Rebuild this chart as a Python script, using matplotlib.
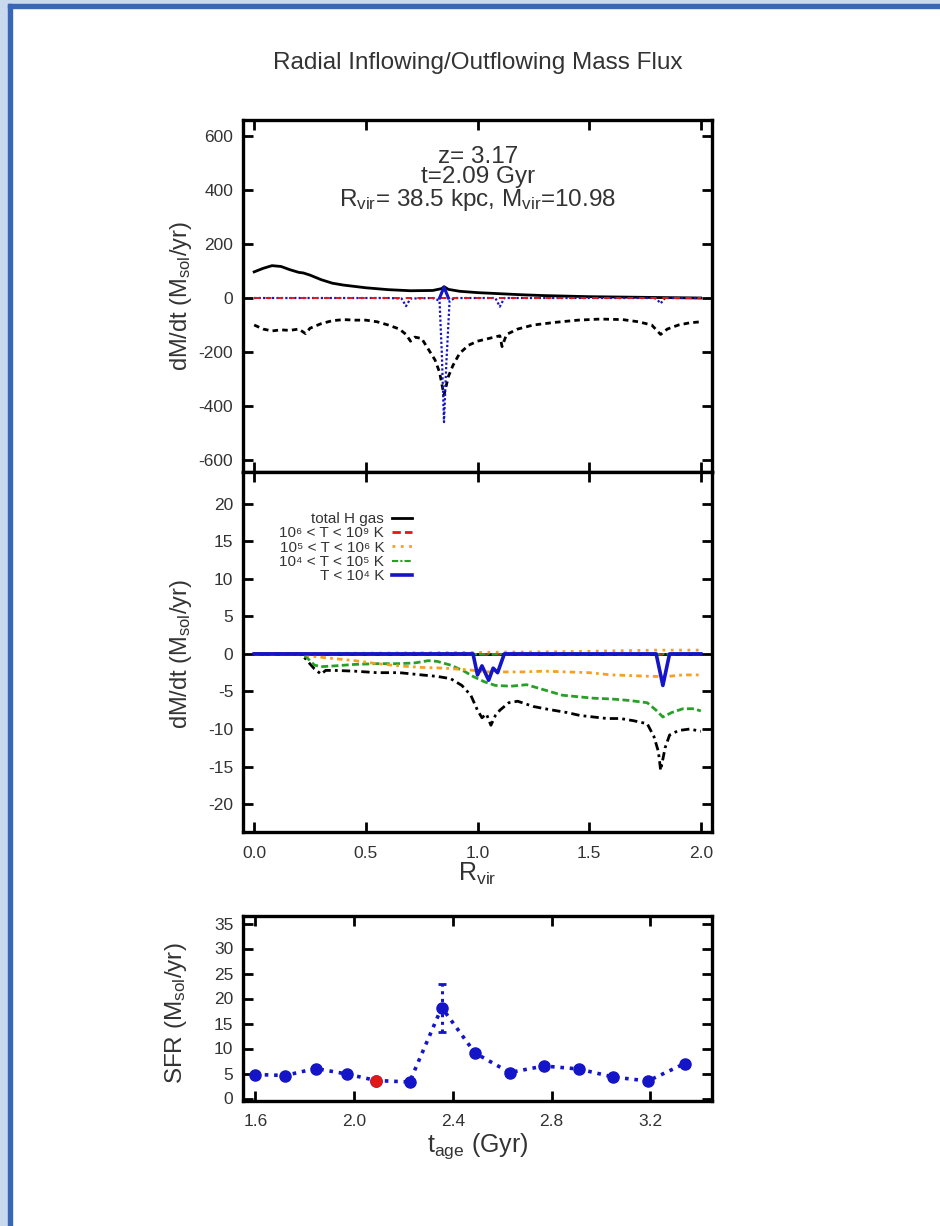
import matplotlib.pyplot as plt
from matplotlib.patches import Rectangle

plt.rcParams['font.family'] = ['Liberation Sans', 'DejaVu Sans']
plt.rcParams['mathtext.default'] = 'regular'
plt.rcParams['axes.unicode_minus'] = False

# ---- top panel: radial flux, full scale ----
r_out_top = [0.0, 0.04, 0.08, 0.12, 0.16, 0.2, 0.22, 0.25, 0.3, 0.35, 0.4, 0.5, 0.6, 0.7,
             0.8, 0.84, 0.85, 0.87, 0.92, 1.0, 1.1, 1.2, 1.3, 1.4, 1.5, 1.6, 1.7, 1.8, 1.9, 2.0]
out_top = [97, 110, 120, 117, 105, 95, 93, 85, 68, 55, 48, 38, 31, 27,
           28, 35, 42, 32, 25, 20, 16, 12, 9, 7, 5, 4, 3, 2, 1, 0]

r_in_top = [0.0, 0.04, 0.08, 0.12, 0.16, 0.2, 0.23, 0.25, 0.3, 0.35, 0.4, 0.45, 0.5, 0.55,
            0.6, 0.65, 0.68, 0.7, 0.72, 0.75, 0.78, 0.81, 0.83, 0.85, 0.87, 0.89, 0.92,
            0.96, 1.0, 1.05, 1.1, 1.11, 1.13, 1.18, 1.25, 1.35, 1.45, 1.55, 1.65, 1.72,
            1.78, 1.82, 1.85, 1.9, 1.95, 2.0]
in_top = [-100, -115, -122, -118, -120, -115, -132, -112, -95, -84, -80, -82, -82, -88,
          -100, -115, -135, -160, -145, -150, -190, -230, -275, -360, -290, -250, -205,
          -175, -160, -150, -140, -180, -135, -115, -100, -90, -82, -78, -80, -88,
          -100, -135, -115, -100, -92, -88]

r_cold_top = [0.0, 0.6, 0.66, 0.68, 0.7, 0.8, 0.83, 0.84, 0.85, 0.86, 0.875, 0.9,
              1.08, 1.1, 1.12, 1.3, 1.78, 1.8, 1.82, 1.84, 2.0]
cold_top = [0, 0, -2, -30, -2, 0, -10, -200, -460, -250, -10, 0,
            0, -32, 0, 0, 0, -2, -20, 0, 0]
r_cold_out_top = [0.83, 0.85, 0.87]
cold_out_top = [0, 40, 0]

# ---- middle panel: zoomed flux by temperature ----
r_tot = [0.0, 0.2, 0.22, 0.24, 0.27, 0.3, 0.32, 0.36, 0.45, 0.55, 0.65, 0.75, 0.82, 0.88,
         0.93, 0.97, 1.0, 1.02, 1.04, 1.06, 1.08, 1.1, 1.14, 1.18, 1.25, 1.32, 1.4, 1.46,
         1.52, 1.58, 1.64, 1.7, 1.76, 1.79, 1.81, 1.82, 1.84, 1.86, 1.9, 1.95, 2.0]
tot_in = [0, 0, -0.3, -1.0, -2.0, -2.7, -2.2, -2.2, -2.3, -2.5, -2.5, -2.8, -3.0, -3.3,
          -4.2, -5.5, -7.5, -8.5, -8.0, -9.5, -8.2, -7.5, -6.5, -6.3, -7.0, -7.4, -7.8, -8.2,
          -8.4, -8.6, -8.6, -8.9, -9.3, -11.0, -13.0, -15.5, -12.5, -10.8, -10.2, -10.0, -10.3]

r_warm = [0.0, 0.22, 0.24, 0.27, 0.3, 0.36, 0.45, 0.55, 0.65, 0.72, 0.78, 0.82, 0.88, 0.94,
          0.98, 1.03, 1.08, 1.15, 1.22, 1.3, 1.38, 1.45, 1.52, 1.6, 1.68, 1.76, 1.8, 1.83,
          1.87, 1.92, 1.97, 2.0]
warm_in = [0, 0, -0.6, -1.5, -1.7, -1.6, -1.4, -1.3, -1.3, -1.2, -0.9, -1.0, -1.5, -2.3,
           -3.0, -3.7, -4.2, -4.3, -4.1, -4.8, -5.5, -5.7, -5.9, -6.0, -6.2, -6.5, -7.5, -8.4,
           -7.8, -7.3, -7.3, -7.6]

r_hot = [0.0, 0.22, 0.25, 0.35, 0.45, 0.55, 0.65, 0.75, 0.85, 0.95, 1.05, 1.12, 1.2, 1.3,
         1.4, 1.5, 1.6, 1.7, 1.78, 1.85, 1.92, 2.0]
hot_in = [0, 0, -0.3, -0.6, -0.9, -1.3, -1.6, -1.8, -1.9, -2.1, -2.4, -2.4, -2.4, -2.3,
          -2.4, -2.5, -2.8, -2.9, -3.0, -3.0, -2.8, -2.8]
r_hot_out = [0.0, 1.0, 1.4, 1.6, 1.8, 2.0]
hot_out = [0, 0.2, 0.3, 0.4, 0.5, 0.5]

r_cold = [0.0, 0.98, 1.0, 1.02, 1.05, 1.07, 1.09, 1.12, 1.8, 1.83, 1.86, 2.0]
cold_in = [0, 0, -2.8, -1.6, -3.5, -1.9, -2.5, 0, 0, -4.2, 0, 0]

r_zero = [0.0, 2.0]
zero_flux = [0, 0]

# ---- bottom panel: star formation history ----
t_age = [1.60, 1.72, 1.845, 1.97, 2.09, 2.225, 2.355, 2.49, 2.63, 2.77, 2.91, 3.05, 3.19, 3.34]
sfr = [4.8, 4.6, 6.0, 4.9, 3.6, 3.3, 18.2, 9.1, 5.2, 6.5, 5.9, 4.3, 3.5, 7.0]
t_now = [2.09]
sfr_now = [3.6]
t_err = [2.355]
sfr_err_val = [18.2]
sfr_err = [4.8]

labels = ['total H gas', '10\u2076 < T < 10\u2079 K', '10\u2075 < T < 10\u2076 K',
          '10\u2074 < T < 10\u2075 K', 'T < 10\u2074 K']
info = ['z= 3.17', 't=2.09 Gyr', r'R$_{vir}$= 38.5 kpc, M$_{vir}$=10.98']

RED, ORANGE, GREEN, BLUE = '#e01818', '#f5a020', '#28a028', '#1414c8'
TXT = '#333333'

fig = plt.figure(figsize=(9.4, 12.26), dpi=100)
W, H = 940.0, 1226.0

# slide frame
fig.patches.append(Rectangle((0, 1 - 4 / H), 1, 4 / H, transform=fig.transFigure,
                             color='#c9d9ee', zorder=-5))
fig.patches.append(Rectangle((0, 0), 8 / W, 1, transform=fig.transFigure,
                             color='#c9d9ee', zorder=-5))
fig.patches.append(Rectangle((8 / W, 1 - 8 / H), 1, 4 / H, transform=fig.transFigure,
                             color='#3a67b5', zorder=-4))
fig.patches.append(Rectangle((8 / W, 0), 4 / W, 1 - 4 / H, transform=fig.transFigure,
                             color='#3a67b5', zorder=-4))


def frame(left, top, right, bottom):
    return fig.add_axes([left / W, 1 - bottom / H, (right - left) / W, (bottom - top) / H])


ax1 = frame(243, 120, 712, 472)
ax2 = frame(243, 472, 712, 832)
ax3 = frame(243, 916, 712, 1101)

for ax in (ax1, ax2, ax3):
    ax.tick_params(direction='in', length=7, width=2, top=True, right=True,
                   labelsize=12.5, labelcolor=TXT, pad=7)
    for s in ax.spines.values():
        s.set_linewidth(2.4)

# top panel
ax1.plot(r_out_top, out_top, color='black', lw=2)
ax1.plot(r_in_top, in_top, color='black', lw=2, ls=(0, (2, 1.5)))
ax1.plot(r_cold_top, cold_top, color=BLUE, lw=1.6, ls=(0, (1, 1)))
ax1.plot(r_zero, zero_flux, color=RED, lw=1.4, ls=(0, (3, 3)))
ax1.plot(r_cold_out_top, cold_out_top, color=BLUE, lw=2.2)
ax1.set_xlim(-0.05, 2.05)
ax1.set_ylim(-645, 660)
ax1.set_xticks([0, 0.5, 1.0, 1.5, 2.0])
ax1.set_xticklabels([])
ax1.set_yticks([600, 400, 200, 0, -200, -400, -600])
ax1.set_ylabel(r'dM/dt (M$_{sol}$/yr)', fontsize=17, color=TXT)
ax1.yaxis.set_label_coords(-0.105, 0.5)
ax1.text(0.501, 0.832, '\n'.join(info), transform=ax1.transAxes, ha='center', va='center',
         multialignment='center', linespacing=0.92, fontsize=17.5, color=TXT)

# middle panel
ax2.plot(r_zero, zero_flux, color='black', lw=2, label=labels[0])
ax2.plot(r_zero, zero_flux, color=RED, lw=2, ls=(0, (3, 1.5)), label=labels[1])
ax2.plot(r_hot_out, hot_out, color=ORANGE, lw=2, ls=(0, (1, 2)), label=labels[2])
ax2.plot(r_zero, zero_flux, color=GREEN, lw=1.5, ls=(0, (3, 1, 1, 1)), label=labels[3])
ax2.plot(r_tot, tot_in, color='black', lw=2, ls=(0, (3, 1.5, 1, 1.5)))
ax2.plot(r_warm, warm_in, color=GREEN, lw=2, ls=(0, (2.5, 1.2)))
ax2.plot(r_hot, hot_in, color=ORANGE, lw=2, ls=(0, (2, 1.5, 1, 1.5)))
ax2.plot(r_cold, cold_in, color=BLUE, lw=2.6, label=labels[4])
ax2.set_xlim(-0.05, 2.05)
ax2.set_ylim(-23.7, 24.2)
ax2.set_xticks([0, 0.5, 1.0, 1.5, 2.0])
ax2.set_xticklabels(['0.0', '0.5', '1.0', '1.5', '2.0'])
ax2.set_yticks([20, 15, 10, 5, 0, -5, -10, -15, -20])
ax2.tick_params(axis='x', pad=10)
ax2.set_ylabel(r'dM/dt (M$_{sol}$/yr)', fontsize=17, color=TXT)
ax2.yaxis.set_label_coords(-0.105, 0.494)
ax2.set_xlabel(r'R$_{vir}$', fontsize=18, color=TXT, labelpad=0)
handles, labs = ax2.get_legend_handles_labels()
ax2.legend(handles, labs, loc='upper right', bbox_to_anchor=(0.376, 0.91), frameon=False,
           markerfirst=False, fontsize=11, labelspacing=0.02, handlelength=1.3,
           handletextpad=0.5, borderpad=0, labelcolor=TXT)

# bottom panel
ax3.plot(t_age, sfr, color=BLUE, lw=2.6, ls=(0, (1, 1.6)), marker='o', ms=8, mec=BLUE)
eb = ax3.errorbar(t_err, sfr_err_val, yerr=sfr_err, fmt='none', ecolor=BLUE, elinewidth=2.2,
                  capsize=3, capthick=2)
eb[2][0].set_linestyle((0, (1, 1.5)))
ax3.plot(t_now, sfr_now, 'o', color=RED, ms=8)
ax3.set_xlim(1.55, 3.45)
ax3.set_ylim(-0.5, 36.5)
ax3.set_xticks([1.6, 2.0, 2.4, 2.8, 3.2])
ax3.set_xticklabels(['1.6', '2.0', '2.4', '2.8', '3.2'])
ax3.set_yticks([0, 5, 10, 15, 20, 25, 30, 35])
ax3.tick_params(axis='x', pad=9)
ax3.set_ylabel(r'SFR (M$_{sol}$/yr)', fontsize=17.5, color=TXT)
ax3.yaxis.set_label_coords(-0.115, 0.476)
ax3.set_xlabel(r't$_{age}$ (Gyr)', fontsize=18, color=TXT, labelpad=2)

fig.text(478 / W, 1 - 63 / H, 'Radial Inflowing/Outflowing Mass Flux', ha='center',
         va='center', fontsize=17.5, color=TXT)

fig.savefig('out.png', dpi=100, facecolor='white')
